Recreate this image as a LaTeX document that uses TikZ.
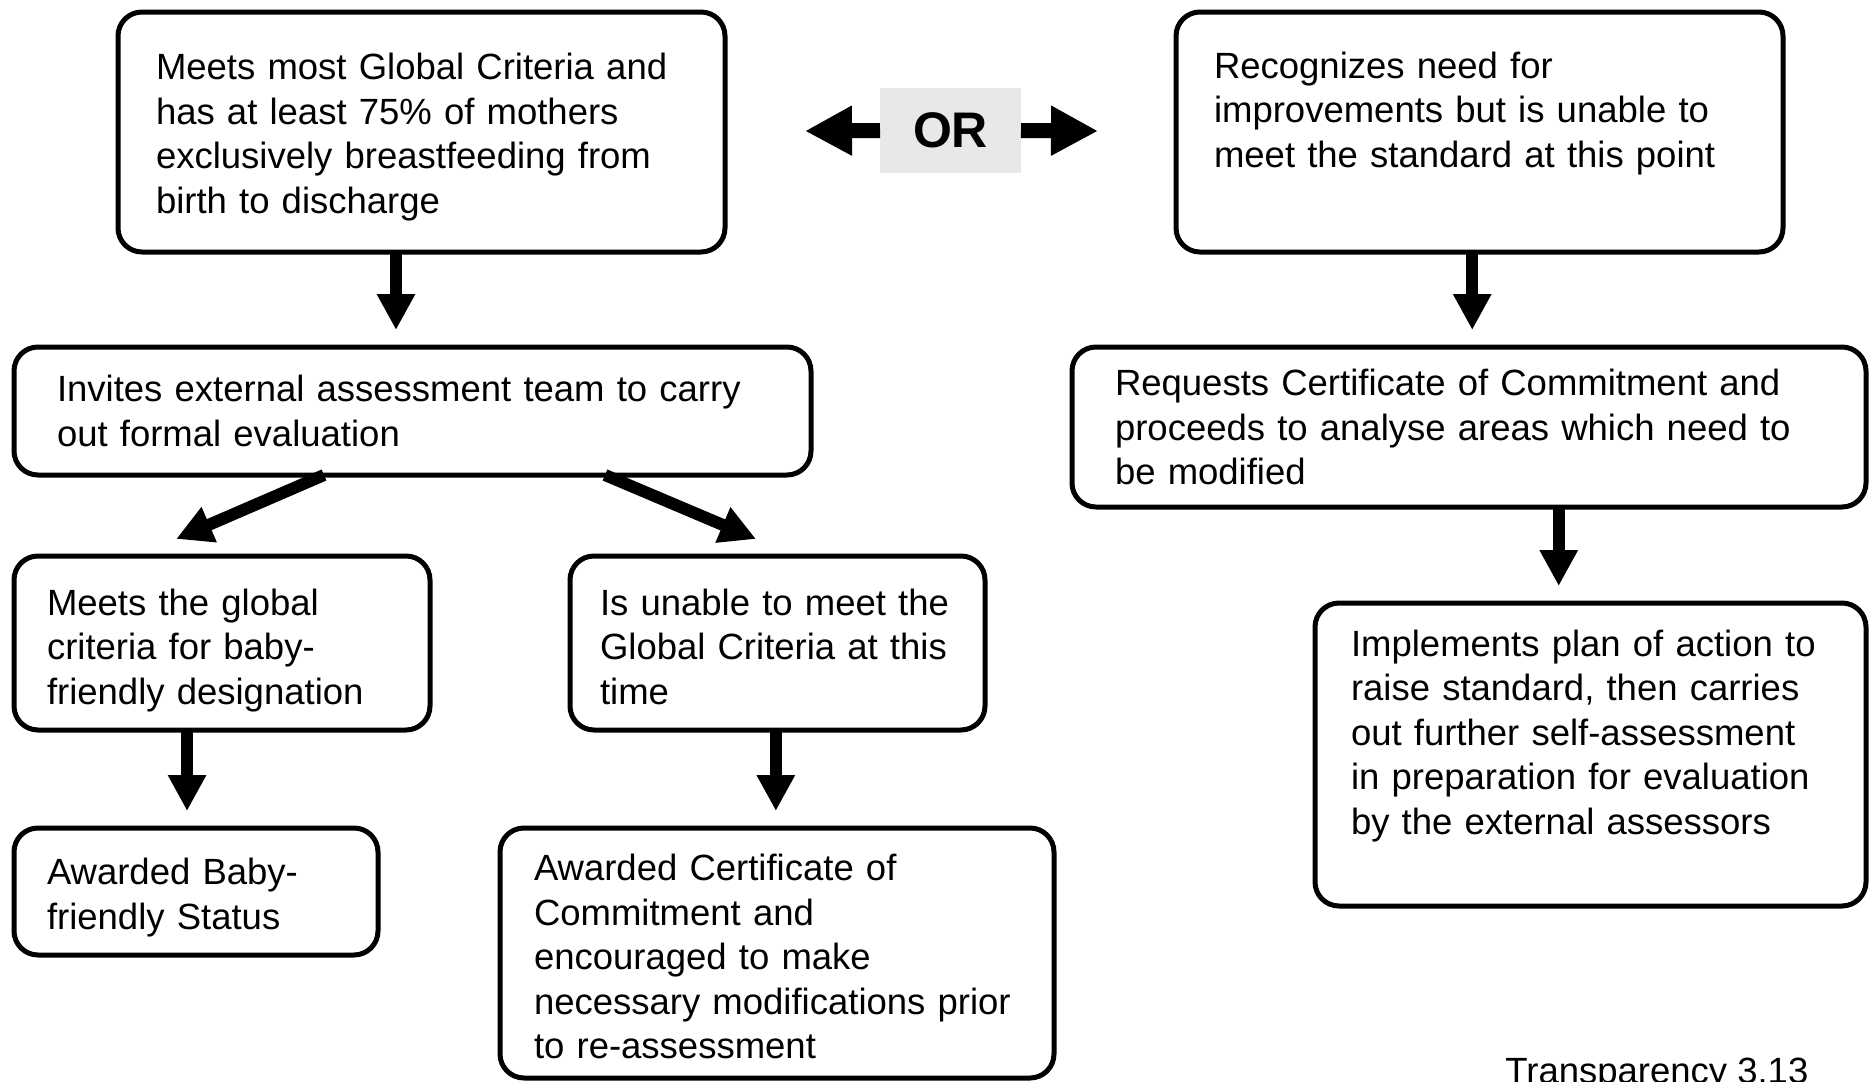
\documentclass[tikz,border=0pt]{standalone}
\usepackage{fontspec}
\setmainfont{Liberation Sans}
\usetikzlibrary{arrows.meta, calc}
\definecolor{orgray}{RGB}{232, 232, 232}

\begin{document}
\begin{tikzpicture}[x=0.5pt, y=-0.5pt,
  flowbox/.style={draw, line width=2.5pt, rounded corners=12pt, anchor=north west, outer sep=0pt, inner ysep=0pt, align=left, font=\fontsize{18.25}{22.25}\selectfont},
  textdrop/.style={execute at begin node={\rule{0pt}{#1}}},
  blockarrow/.style={line width=6pt, -{Triangle[width=18pt, length=18pt]}, shorten >=8.5pt},
  orarrow/.style={line width=7.5pt, -{Triangle[width=23.5pt, length=23.5pt]}}]
  \useasboundingbox (0, 0) rectangle (1870, 1082);

  % the two starting situations
  \node[flowbox, textdrop=18.3pt, minimum width=303.5pt, minimum height=120pt, inner xsep=19pt, text width=265.5pt] (A) at (118, 12) {
    Meets most Global Criteria and\\has at least 75\% of mothers\\exclusively breastfeeding from\\birth to discharge};
  \node[flowbox, minimum width=303.5pt, minimum height=120pt, inner xsep=19pt, text width=265.5pt] (B) at (1176, 12) {
    Recognizes need for\\improvements but is unable to\\meet the standard at this point\\\mbox{}};

  % OR between them
  \node[fill=orgray, minimum width=70.5pt, minimum height=42.5pt, outer sep=0pt, inner sep=0pt, font=\fontsize{25}{30}\selectfont\bfseries] (OR) at (950.5, 130.5) {OR};
  \coordinate (orL) at (805, 131);
  \coordinate (orR) at (1098, 131);
  \draw[orarrow] (OR.west) -- (orL);
  \draw[orarrow] (OR.east) -- (orR);

  % left branch
  \node[flowbox, minimum width=398.5pt, minimum height=64pt, inner xsep=21.5pt, text width=355.5pt] (C) at (14, 347) {
    Invites external assessment team to carry\\out formal evaluation};
  \node[flowbox, textdrop=20.3pt, minimum width=208pt, minimum height=87pt, inner xsep=16.5pt, text width=175pt] (E) at (14, 556) {
    Meets the global\\criteria for baby-\\friendly designation};
  \node[flowbox, textdrop=16.7pt, minimum width=207.5pt, minimum height=87pt, inner xsep=15pt, text width=177.5pt] (F) at (570, 556) {
    Is unable to meet the\\Global Criteria at this\\time};
  \node[flowbox, textdrop=19.3pt, minimum width=182pt, minimum height=63.5pt, inner xsep=16.5pt, text width=149pt] (G) at (14, 828) {
    Awarded Baby-\\friendly Status};
  \node[flowbox, textdrop=16.8pt, minimum width=277pt, minimum height=125pt, inner xsep=17pt, text width=243pt] (H) at (500, 828) {
    Awarded Certificate of\\Commitment and\\encouraged to make\\necessary modifications prior\\to re-assessment};

  % right branch
  \node[flowbox, minimum width=397pt, minimum height=80pt, inner xsep=21.5pt, text width=354pt] (D) at (1072, 347) {
    Requests Certificate of Commitment and\\proceeds to analyse areas which need to\\be modified};
  \node[flowbox, minimum width=275.5pt, minimum height=151.5pt, inner xsep=18pt, text width=239.5pt] (I) at (1315, 603) {
    Implements plan of action to\\raise standard, then carries\\out further self-assessment\\in preparation for evaluation\\by the external assessors\\\mbox{}};

  % arrows
  \coordinate (ac) at ($(A.south west)!0.458!(A.south east)$);
  \coordinate (bd) at ($(B.south west)!0.488!(B.south east)$);
  \coordinate (eg) at ($(E.south west)!0.416!(E.south east)$);
  \coordinate (fh) at ($(F.south west)!0.496!(F.south east)$);
  \coordinate (di) at ($(D.south west)!0.613!(D.south east)$);
  \draw[blockarrow] (ac) -- (ac |- C.north);
  \draw[blockarrow] (bd) -- (bd |- D.north);
  \draw[blockarrow] (eg) -- (eg |- G.north);
  \draw[blockarrow] (fh) -- (fh |- H.north);
  \draw[blockarrow] (di) -- (di |- I.north);
  \draw[blockarrow, shorten >=21.5pt] ($(C.south west)!0.389!(C.south east)$) -- ($(E.north west)!0.295!(E.north east)$);
  \draw[blockarrow, shorten >=21.8pt] ($(C.south west)!0.7415!(C.south east)$) -- ($(F.north west)!0.545!(F.north east)$);

  \node[anchor=base west, inner sep=0pt, font=\fontsize{18.25}{22.25}\selectfont] (tag) at (1505, 1083) {Transparency 3.13};
\end{tikzpicture}
\end{document}
